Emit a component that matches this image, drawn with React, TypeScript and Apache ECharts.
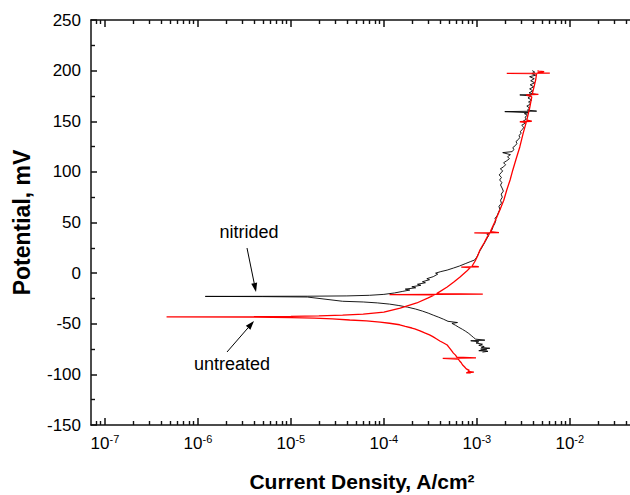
import React, { useEffect, useRef } from "react";
import * as echarts from "echarts";

// ---- axis ranges / ticks ----
const X_MIN_LOG = -7.15; // log10 of current density at left edge
const X_MAX_LOG = -1.32; // log10 at right edge (cut off by picture)
const decadeExponents = [-7, -6, -5, -4, -3, -2];
const minorMultipliers = [2, 3, 4, 5, 6, 7, 8, 9];
const minorDecades = [-8, -7, -6, -5, -4, -3, -2];
const Y_MIN = -150;
const Y_MAX = 250;
const Y_STEP = 50;

// ---- data: [current density A/cm2, potential mV] in scan order ----
const nitrided: [number, number][] = [
  [1.15e-3, -78], [1.32e-3, -77.2], [1.05e-3, -76.6], [1.28e-3, -75.8], [1.1e-3, -75],
  [1.38e-3, -74.2], [1.12e-3, -73.4], [1.2e-3, -72.5], [1.05e-3, -71.3], [1.15e-3, -70.2],
  [0.98e-3, -69], [1.05e-3, -67.8], [0.86e-3, -66.8], [1.22e-3, -66.2], [0.97e-3, -65.2],
  [0.92e-3, -63.5], [0.87e-3, -61.6], [0.82e-3, -59.6], [0.76e-3, -57.5], [0.7e-3, -55.5],
  [0.64e-3, -53.5], [0.59e-3, -51.5], [0.54e-3, -49.6], [0.62e-3, -48.8], [0.49e-3, -47.6],
  [0.44e-3, -45.6], [0.39e-3, -43.6], [0.34e-3, -41.5], [0.3e-3, -39.5], [0.26e-3, -37.5],
  [0.22e-3, -35.5], [0.18e-3, -33.6], [0.145e-3, -32], [0.115e-3, -30.6], [8.5e-5, -29.4],
  [6e-5, -28.5], [3.6e-5, -27.8], [1.5e-5, -23.6], [5e-6, -23.2], [1.2e-6, -23],
  [5e-6, -22.9], [1.5e-5, -22.8], [4e-5, -22.5], [7e-5, -21.9], [1e-4, -21],
  [1.3e-4, -19.6], [1.6e-4, -18], [1.9e-4, -16.7], [1.7e-4, -15.8], [2.2e-4, -14.5],
  [2.0e-4, -13.5], [2.5e-4, -12], [2.3e-4, -11], [2.8e-4, -9.5], [2.6e-4, -8.5],
  [3.1e-4, -6.5], [2.9e-4, -5.5], [3.4e-4, -3.5], [3.8e-4, -1], [3.6e-4, 0],
  [4.1e-4, 1.5], [4.8e-4, 3], [5.6e-4, 5], [6.5e-4, 7], [7.5e-4, 9.3],
  [8.5e-4, 11.3], [9.5e-4, 13], [1.0e-3, 16], [1.04e-3, 19], [1.08e-3, 22],
  [1.13e-3, 25], [1.18e-3, 28], [1.23e-3, 31], [1.28e-3, 34], [1.34e-3, 37],
  [1.28e-3, 38.5], [1.4e-3, 40], [1.46e-3, 43], [1.5e-3, 46], [1.56e-3, 49],
  [1.6e-3, 52], [1.57e-3, 54], [1.66e-3, 57], [1.71e-3, 60], [1.77e-3, 63],
  [1.73e-3, 66], [1.84e-3, 69], [1.8e-3, 72], [1.88e-3, 75], [1.83e-3, 78],
  [1.93e-3, 81], [1.87e-3, 84], [1.8e-3, 87], [1.86e-3, 89.5], [1.76e-3, 92],
  [1.84e-3, 94.5], [1.74e-3, 97], [1.82e-3, 99], [1.9e-3, 101], [1.79e-3, 103],
  [1.94e-3, 105], [2.04e-3, 107], [1.94e-3, 109], [2.1e-3, 111], [2.24e-3, 113],
  [2.14e-3, 115], [2.3e-3, 117], [1.9e-3, 119], [2.4e-3, 120], [2.5e-3, 122],
  [2.44e-3, 124], [2.6e-3, 126], [2.7e-3, 128], [2.64e-3, 130], [2.8e-3, 132],
  [2.9e-3, 134], [2.84e-3, 136], [3.0e-3, 138], [2.94e-3, 140], [3.1e-3, 142],
  [3.2e-3, 144], [3.04e-3, 146], [3.3e-3, 148], [3.14e-3, 150], [3.4e-3, 152],
  [3.3e-3, 154], [3.5e-3, 156], [3.25e-3, 157.5], [3.6e-3, 158.5], [2.0e-3, 159.5],
  [4.4e-3, 160], [3.5e-3, 161], [3.7e-3, 163], [3.45e-3, 165], [3.8e-3, 167],
  [3.6e-3, 169], [3.9e-3, 171], [3.55e-3, 173], [3.85e-3, 175], [2.9e-3, 176],
  [4.3e-3, 176.5], [3.65e-3, 178], [4.0e-3, 180], [3.7e-3, 182], [4.1e-3, 184],
  [3.75e-3, 186], [4.2e-3, 188], [3.8e-3, 190], [4.15e-3, 192], [3.7e-3, 194],
  [4.3e-3, 195.5], [3.9e-3, 197], [4.2e-3, 198.5], [3.95e-3, 200],
];

const untreated: [number, number][] = [
  [8.6e-4, -99], [7.7e-4, -98.4], [9.3e-4, -97.8], [8.0e-4, -97], [8.3e-4, -96],
  [7.7e-4, -94.5], [7.4e-4, -92.7], [7.0e-4, -90.5], [6.8e-4, -88.5], [6.5e-4, -86.5],
  [6.3e-4, -84.8], [4.3e-4, -84.2], [9.8e-4, -83.8], [6.1e-4, -83], [5.9e-4, -81],
  [5.6e-4, -79], [5.4e-4, -77], [5.2e-4, -75], [5.0e-4, -73], [4.8e-4, -71],
  [4.4e-4, -69], [4.0e-4, -67], [3.7e-4, -65], [3.4e-4, -63], [3.1e-4, -61],
  [2.75e-4, -59], [2.45e-4, -57], [2.15e-4, -55], [2.0e-4, -54.2], [1.7e-4, -52.5],
  [1.48e-4, -51], [1.15e-4, -49.5], [9.1e-5, -48.3], [6.5e-5, -47.2], [4.3e-5, -46.3],
  [2.8e-5, -45.2], [1.8e-5, -44.5], [1e-5, -43.9], [4e-6, -43.5], [4.6e-7, -43.3],
  [4e-6, -43.1], [1e-5, -42.8], [2e-5, -42.2], [3.6e-5, -41.5], [6e-5, -40.5],
  [1e-4, -38.5], [1.5e-4, -34.5], [2.26e-4, -29.5], [3.0e-4, -24.5], [3.5e-4, -21.6],
  [1.15e-4, -21.2], [1.16e-3, -20.8], [3.7e-4, -20.2], [4.8e-4, -13.7], [5.7e-4, -8.5],
  [6.6e-4, -3.8], [7.8e-4, 2], [8.5e-4, 5.5], [6.8e-4, 6], [1.05e-3, 6.3],
  [8.9e-4, 7], [9.6e-4, 12], [1.02e-3, 17], [1.08e-3, 22.8], [1.2e-3, 30],
  [1.3e-3, 36], [1.38e-3, 39.4], [9.4e-4, 39.7], [1.73e-3, 40], [1.4e-3, 41],
  [1.55e-3, 50], [1.77e-3, 62.3], [1.95e-3, 72], [2.1e-3, 82.1], [2.28e-3, 92],
  [2.44e-3, 101.9], [2.65e-3, 113], [2.9e-3, 124.6], [3.15e-3, 138], [3.4e-3, 149],
  [2.9e-3, 149.5], [3.9e-3, 150], [3.45e-3, 151.2], [3.7e-3, 163], [3.9e-3, 174],
  [3.4e-3, 176], [4.6e-3, 176.5], [3.95e-3, 177], [4.1e-3, 183], [4.3e-3, 191],
  [4.4e-3, 197], [2.1e-3, 197.3], [6.1e-3, 197.6], [4.5e-3, 198], [5.3e-3, 199],
  [4.6e-3, 199.5], [4.5e-3, 200],
];

const FONT = 'Arial, "Liberation Sans", Helvetica, sans-serif';
const AXIS = "#111";

function arrow(x1: number, y1: number, x2: number, y2: number) {
  const dx = x2 - x1;
  const dy = y2 - y1;
  const len = Math.hypot(dx, dy);
  const ux = dx / len;
  const uy = dy / len;
  const hl = 9;
  const hw = 3;
  const bx = x2 - ux * hl;
  const by = y2 - uy * hl;
  return [
    { type: "line", shape: { x1, y1, x2: bx, y2: by }, style: { stroke: "#000", lineWidth: 1 } },
    {
      type: "polygon",
      shape: { points: [[x2, y2], [bx - uy * hw, by + ux * hw], [bx + uy * hw, by - ux * hw]] },
      style: { fill: "#000" },
    },
  ];
}

export default function App() {
  const ref = useRef<HTMLDivElement>(null);
  useEffect(() => {
    if (!ref.current) return;
    const chart = echarts.init(ref.current, null, { renderer: "svg" });

    const minorLogs: number[] = [];
    minorDecades.forEach((d) =>
      minorMultipliers.forEach((m) => {
        const v = d + Math.log10(m);
        if (v > X_MIN_LOG && v < X_MAX_LOG) minorLogs.push(v);
      })
    );
    const toXY = (arr: [number, number][]) => arr.map(([i, e]) => [Math.log10(i), e]);

    const xBase = {
      type: "value",
      min: X_MIN_LOG,
      max: X_MAX_LOG,
      splitNumber: 6,
      splitLine: { show: false },
      gridIndex: 0,
    };
    const axisLineStyle = { color: AXIS, width: 1.5 };
    const majorTick = {
      show: true,
      inside: true,
      length: 7,
      customValues: decadeExponents,
      lineStyle: { color: AXIS, width: 1.5 },
    };
    const minorTickAxis = {
      ...xBase,
      axisLine: { show: false, onZero: false },
      axisTick: { show: true, inside: true, length: 4, customValues: minorLogs, lineStyle: { color: AXIS, width: 1.4 } },
      axisLabel: { show: false },
    };

    chart.setOption({
      animation: false,
      textStyle: { fontFamily: FONT },
      grid: { left: 91, top: 20, width: 542, height: 405, containLabel: false, outerBoundsMode: "none" },
      xAxis: [
        {
          ...xBase,
          position: "bottom",
          axisLine: { show: true, onZero: false, lineStyle: axisLineStyle },
          axisTick: majorTick,
          axisLabel: {
            show: true,
            margin: 8,
            customValues: decadeExponents,
            formatter: (v: number) =>
              Math.abs(v - Math.round(v)) < 1e-6 ? `{b|10}{s|${Math.round(v)}}` : "",
            rich: {
              b: { fontSize: 17, fontFamily: FONT, color: "#000", lineHeight: 20 },
              s: { fontSize: 11, fontFamily: FONT, color: "#000", lineHeight: 15, verticalAlign: "top" },
            },
          },
          name: "Current Density, A/cm²",
          nameLocation: "middle",
          nameGap: 46,
          nameTextStyle: { fontSize: 21, fontWeight: "bold", color: "#000", fontFamily: FONT },
        },
        {
          ...xBase,
          position: "top",
          axisLine: { show: true, onZero: false, lineStyle: axisLineStyle },
          axisTick: majorTick,
          axisLabel: { show: false },
        },
        { ...minorTickAxis, position: "bottom" },
        { ...minorTickAxis, position: "top" },
      ],
      yAxis: {
        type: "value",
        min: Y_MIN,
        max: Y_MAX,
        interval: Y_STEP,
        position: "left",
        axisLine: { show: true, onZero: false, lineStyle: axisLineStyle },
        axisTick: { show: true, inside: true, length: 6, lineStyle: { color: AXIS, width: 1.5 } },
        minorTick: { show: true, splitNumber: 2, length: 4, lineStyle: { color: AXIS, width: 1.4 } },
        splitLine: { show: false },
        axisLabel: { fontSize: 17, color: "#000", margin: 10, fontFamily: FONT },
        name: "Potential, mV",
        nameLocation: "middle",
        nameGap: 58,
        nameTextStyle: { fontSize: 23, fontWeight: "bold", color: "#000", fontFamily: FONT },
      },
      series: [
        {
          type: "line",
          name: "nitrided",
          data: toXY(nitrided),
          xAxisIndex: 0,
          yAxisIndex: 0,
          showSymbol: false,
          symbol: "none",
          clip: true,
          silent: true,
          z: 2,
          lineStyle: { color: "#000", width: 0.9 },
        },
        {
          type: "line",
          name: "untreated",
          data: toXY(untreated),
          xAxisIndex: 0,
          yAxisIndex: 0,
          showSymbol: false,
          symbol: "none",
          clip: true,
          silent: true,
          z: 3,
          lineStyle: { color: "#ff0000", width: 1.3 },
        },
      ],
      graphic: [
        {
          type: "text",
          x: 249,
          y: 232,
          style: { text: "nitrided", align: "center", verticalAlign: "middle", fontSize: 18, fontFamily: FONT, fill: "#000" },
        },
        {
          type: "text",
          x: 232,
          y: 364,
          style: { text: "untreated", align: "center", verticalAlign: "middle", fontSize: 18, fontFamily: FONT, fill: "#000" },
        },
        ...arrow(247, 248, 256, 292),
        ...arrow(227, 352, 254, 321),
      ],
    });
    return () => chart.dispose();
  }, []);
  return <div ref={ref} style={{ position: "absolute", left: 0, top: 0, width: 630, height: 495 }} />;
}
